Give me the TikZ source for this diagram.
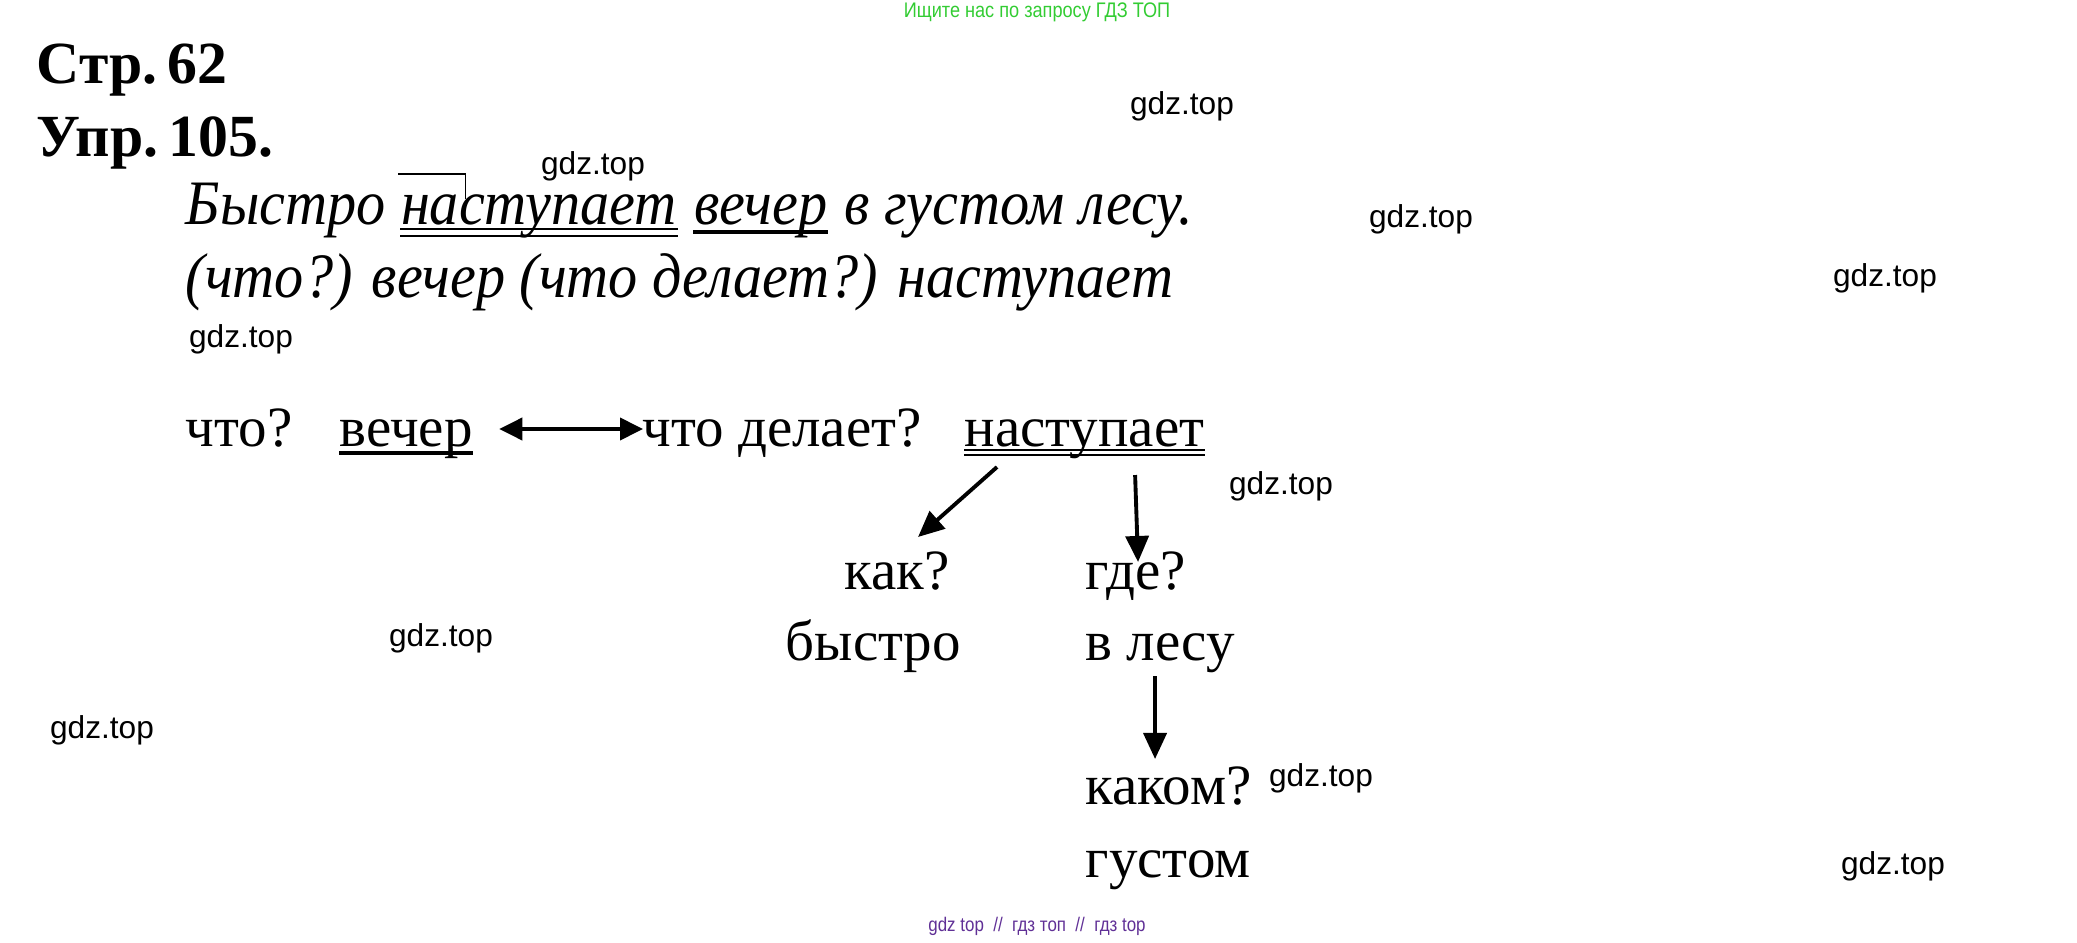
\documentclass[tikz,border=0pt]{standalone}
\usepackage{fontspec}
\setmainfont{Liberation Serif}
\newfontfamily\narrowital[FakeStretch=0.92]{Liberation Serif Italic}
\newfontfamily\wmfont{Liberation Sans}
\newfontfamily\bannerfont[FakeStretch=0.86]{Liberation Sans}
\usetikzlibrary{arrows.meta, positioning, calc}
\definecolor{wmgreen}{RGB}{51,204,51}
\definecolor{wmpurple}{RGB}{96,48,150}

\begin{document}
\begin{tikzpicture}[x=0.01cm, y=-0.01cm,
    word/.style={anchor=base west, inner sep=0pt, font=\fontsize{16.2pt}{19pt}\selectfont},
    head/.style={anchor=base west, inner sep=0pt, font=\fontsize{17pt}{20pt}\selectfont\bfseries},
    itl/.style={anchor=base west, inner sep=0pt, font=\fontsize{18pt}{21pt}\narrowital},
    wm/.style={inner sep=0pt, font=\fontsize{9pt}{11pt}\selectfont\wmfont},
    arr/.style={line width=1.1pt, -{Triangle[length=0.26cm, width=0.23cm]}},
    arrboth/.style={line width=1.1pt, {Triangle[length=0.23cm, width=0.22cm]}-{Triangle[length=0.23cm, width=0.22cm]}},
    uline/.style={line width=1pt},
    dline/.style={line width=0.55pt},
]
    \useasboundingbox (0,0) rectangle (2077,942);

    % Site banners
    \node[inner sep=0pt, text=wmgreen, font=\fontsize{6pt}{7pt}\bannerfont] (banner) at (1037,12) {Ищите нас по запросу ГДЗ ТОП};
    \node[inner sep=0pt, text=wmpurple, font=\fontsize{5.6pt}{7pt}\bannerfont] (footer) at (1037,926) {gdz top \ // \ гдз топ \ // \ гдз top};

    % Heading
    \node[head] (page) at (36,83) {Стр.\hspace{0.17em}62};
    \node[head] (task) at (36,156) {Упр.\hspace{0.17em}105.};

    % Sentence
    \node[itl] (s1) at (185,224) {Быстро};
    \node[itl] (s2) at ([xshift=4pt]s1.base east) {наступает};
    \node[itl] (s3) at ([xshift=4.5pt]s2.base east) {вечер};
    \node[itl] (s4) at ([xshift=4.5pt]s3.base east) {в густом лесу.};
    \draw[dline] ([yshift=-0.05cm]s2.base west) -- ([yshift=-0.05cm]s2.base east);
    \draw[dline] ([yshift=-0.12cm]s2.base west) -- ([yshift=-0.12cm]s2.base east);
    \draw[uline] ([yshift=-0.08cm]s3.base west) -- ([yshift=-0.08cm]s3.base east);
    \draw[line width=0.5pt] ([shift={(-2,-50)}]s2.base west) -- ++(67,0) -- ++(0,25);
    \node[itl] (q) at (185,297) {(что?) вечер (что делает?) наступает};

    % Question row
    \node[word] (what) at (185,446) {что?};
    \node[word] (vecher) at (339,446) {вечер};
    \node[word] (delaet) at (642,446) {что делает?};
    \node[word] (nast) at (964,446) {наступает};
    \draw[uline] ([yshift=-0.07cm]vecher.base west) -- ([yshift=-0.07cm]vecher.base east);
    \draw[dline] ([yshift=-0.04cm]nast.base west) -- ([yshift=-0.04cm]nast.base east);
    \draw[dline] ([yshift=-0.09cm]nast.base west) -- ([yshift=-0.09cm]nast.base east);
    \draw[arrboth] ([xshift=0.26cm, yshift=0.17cm]vecher.base east) -- ([xshift=0.01cm, yshift=0.17cm]delaet.base west);

    % Dependent words
    \node[word] (kak) at (844,589) {как?};
    \node[word] (bystro) at (785,660) {быстро};
    \node[word] (gde) at (1085,589) {где?};
    \node[word] (lesu) at (1085,660) {в лесу};
    \node[word] (kakom) at (1085,804) {каком?};
    \node[word] (gustom) at (1085,877) {густом};
    \draw[arr] ([xshift=0.33cm, yshift=-0.21cm]nast.base west) -- ([xshift=0.74cm, yshift=0.52cm]kak.base west);
    \draw[arr] ([xshift=1.71cm, yshift=-0.29cm]nast.base west) -- ([xshift=0.53cm, yshift=0.27cm]gde.base west);
    \draw[arr] ([xshift=0.7cm, yshift=-0.16cm]lesu.base west) -- ([xshift=0.7cm, yshift=0.45cm]kakom.base west);

    % Watermarks
    \node[wm] (wm1) at (1182,106) {gdz.top};
    \node[wm] (wm2) at (593,166) {gdz.top};
    \node[wm] (wm3) at (1421,219) {gdz.top};
    \node[wm] (wm4) at (1885,278) {gdz.top};
    \node[wm] (wm5) at (241,339) {gdz.top};
    \node[wm] (wm6) at (1281,486) {gdz.top};
    \node[wm] (wm7) at (441,638) {gdz.top};
    \node[wm] (wm8) at (102,730) {gdz.top};
    \node[wm] (wm9) at (1321,778) {gdz.top};
    \node[wm] (wm10) at (1893,866) {gdz.top};
\end{tikzpicture}
\end{document}
